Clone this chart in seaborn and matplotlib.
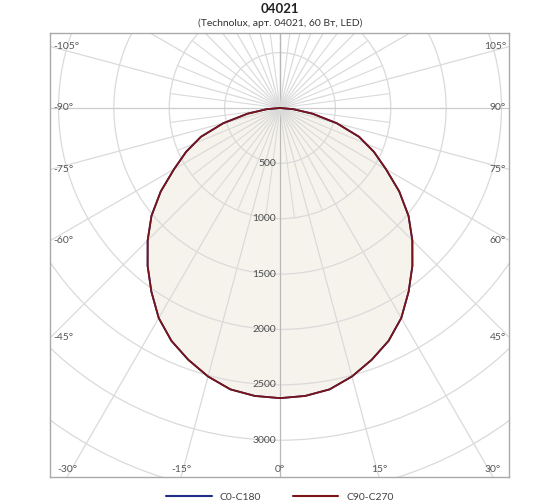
import numpy as np
import pandas as pd
import matplotlib
matplotlib.use("Agg")
import matplotlib.pyplot as plt
from matplotlib.patches import Circle
import seaborn as sns

# luminous intensity (cd) vs gamma angle (deg)
gamma = [-90, -85, -80, -75, -70, -65, -60, -55, -50, -45, -40, -35, -30, -25, -20, -15, -10, -5,
         0, 5, 10, 15, 20, 25, 30, 35, 40, 45, 50, 55, 60, 65, 70, 75, 80, 85, 90]
cd_c0_c180 = [0, 120, 300, 530, 760, 935, 1105, 1315, 1515, 1690, 1860, 2025, 2190, 2320, 2420, 2510, 2580, 2610,
              2620, 2610, 2580, 2510, 2420, 2320, 2190, 2025, 1860, 1690, 1515, 1315, 1105, 935, 760, 530, 300, 120, 0]
cd_c90_c270 = [0, 120, 300, 530, 760, 935, 1105, 1315, 1515, 1690, 1860, 2025, 2190, 2320, 2420, 2510, 2580, 2610,
               2620, 2610, 2580, 2510, 2420, 2320, 2190, 2025, 1860, 1690, 1515, 1315, 1105, 935, 760, 530, 300, 120, 0]
planes = ["C0-C180", "C90-C270"]
plane_colors = ["#1f2d86", "#7a1416"]

ring_values = [500, 1000, 1500, 2000, 2500, 3000, 3500, 4000]
ring_labels = ["500", "1000", "1500", "2000", "2500", "3000"]
label_angles = list(range(-180, 181, 15))

title = "04021"
subtitle = "(Technolux, арт. 04021, 60 Вт, LED)"

sns.set_style("white")
plt.rcParams['font.family'] = ['Lato', 'DejaVu Sans']

fig = plt.figure(figsize=(5.6, 5.04), dpi=100)
ax = fig.add_axes([50 / 560, 27 / 504, 459 / 560, 444 / 504])

s = 9.03  # cd per pixel
xmin, xmax = -230 * s, 229 * s
ymin, ymax = -369 * s, 75 * s
ax.set_xlim(xmin, xmax)
ax.set_ylim(ymin, ymax)
ax.set_xticks([])
ax.set_yticks([])
for sp in ax.spines.values():
    sp.set_color("#a9a9a9")
    sp.set_linewidth(1.0)

# polar -> cartesian, 0 deg pointing down
rows = []
for plane, vals in zip(planes, [cd_c0_c180, cd_c90_c270]):
    for i, (g, v) in enumerate(zip(gamma, vals)):
        rows.append({"plane": plane, "order": i,
                     "x": v * np.sin(np.radians(g)), "y": -v * np.cos(np.radians(g))})
df = pd.DataFrame(rows)

# filled area
d2 = df[df.plane == "C90-C270"]
ax.fill(d2.x, d2.y, color="#f6f3ec", zorder=1, lw=0)

# grid circles
for r in ring_values:
    ax.add_patch(Circle((0, 0), r, fill=False, ec="#dadada", lw=0.9, zorder=2))

# grid rays
far = 6000
for g in label_angles:
    gr = np.radians(g)
    col = "#dadada"
    if g in (0, 180, -180):
        col = "#b8b8b8"
    elif abs(g) == 90:
        col = "#cccccc"
    ax.plot([0, far * np.sin(gr)], [0, -far * np.cos(gr)], color=col, lw=0.9, zorder=2)
for k in range(24):
    gr = np.radians(7.5 + 15 * k)
    ax.plot([0, 1000 * np.sin(gr)], [0, -1000 * np.cos(gr)], color="#dadada", lw=0.8, zorder=2)

# curves
sns.lineplot(data=df, x="x", y="y", hue="plane", units="plane", estimator=None, sort=False,
             palette=dict(zip(planes, plane_colors)), lw=1.3, ax=ax, zorder=3, legend=False)
ax.set_xlabel("")
ax.set_ylabel("")

# intensity labels
for lab in ring_labels:
    ax.text(-4 * s, -float(lab), lab, ha="right", va="center", fontsize=7.5, color="#4d4d4d", zorder=4)

# angle labels on the frame
for g in label_angles:
    if abs(g) == 180:
        continue
    gr = np.radians(g)
    dx, dy = np.sin(gr), -np.cos(gr)
    ts = []
    if dx < -1e-9:
        ts.append((xmin / dx, "left"))
    if dx > 1e-9:
        ts.append((xmax / dx, "right"))
    if dy < -1e-9:
        ts.append((ymin / dy, "bottom"))
    if dy > 1e-9:
        ts.append((ymax / dy, "top"))
    t, side = min(ts)
    px, py = t * dx, t * dy
    lab = f"{g}°"
    if side == "left":
        ax.text(xmin + 3 * s, py, lab, ha="left", va="center", fontsize=7.5, color="#555555")
    elif side == "right":
        ax.text(xmax - 3 * s, py, lab, ha="right", va="center", fontsize=7.5, color="#555555")
    elif side == "bottom":
        ax.text(px, ymin + 8 * s, lab, ha="center", va="center", fontsize=7.5, color="#555555")

fig.text(0.5, 1 - 9 / 504, title, ha="center", va="center", fontsize=9.5, fontweight="bold", color="#222222")
fig.text(0.5, 1 - 23 / 504, subtitle, ha="center", va="center", fontsize=7.5, color="#333333")

handles = [plt.Line2D([], [], color=c, lw=1.5) for c in plane_colors]
fig.legend(handles, planes, loc="center", bbox_to_anchor=(0.5, 1 - 497 / 504), ncol=2, frameon=False,
           fontsize=7.5, handlelength=4.4, handletextpad=0.8, columnspacing=3.0, labelcolor="#444444")

fig.savefig("out.png", dpi=100)
